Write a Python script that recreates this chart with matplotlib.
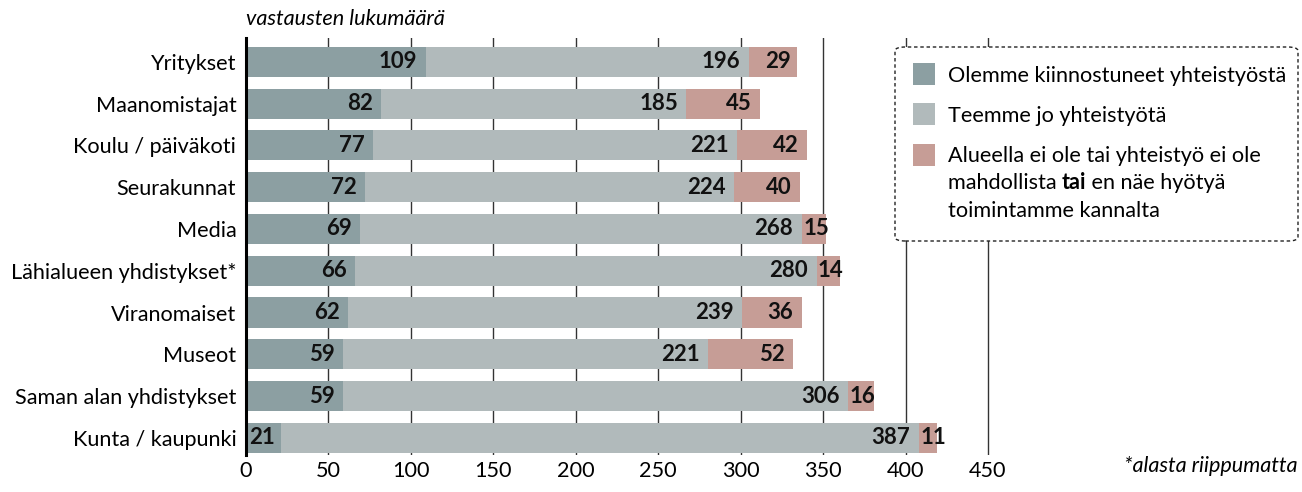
import matplotlib
matplotlib.use('Agg')
import matplotlib.pyplot as plt
from matplotlib.patches import FancyBboxPatch, Rectangle
from matplotlib.text import Annotation

plt.rcParams['font.family'] = ['Lato', 'DejaVu Sans']

# ── Data ──────────────────────────────────────────────────────────────────────
CATEGORIES = ['Yritykset', 'Maanomistajat', 'Koulu / päiväkoti', 'Seurakunnat',
              'Media', 'Lähialueen yhdistykset*', 'Viranomaiset', 'Museot',
              'Saman alan yhdistykset', 'Kunta / kaupunki']
INTERESTED = [109, 82, 77, 72, 69, 66, 62, 59, 59, 21]
ALREADY    = [196, 185, 221, 224, 268, 280, 239, 221, 306, 387]
NOT_POSS   = [29, 45, 42, 40, 15, 14, 36, 52, 16, 11]
XTICKS     = [0, 50, 100, 150, 200, 250, 300, 350, 400, 450]

SERIES_LABELS = ['Olemme kiinnostuneet yhteistyöstä', 'Teemme jo yhteistyötä']
COLORS = ['#8c9fa2', '#b1babb', '#c69d96']

FS = 15.6
NUM_FS = 16
W, H = 1302, 492
XMAX = 452
PX_PER_UNIT = (988 - 246) / 450

fig = plt.figure(figsize=(W / 100, H / 100), dpi=100)
ax = fig.add_axes([246 / W, 1 - 455 / H, XMAX * PX_PER_UNIT / W, (455 - 38) / H])

ys = list(range(len(CATEGORIES)))
h = 0.72
left = [0] * len(ys)
for vals, col in zip([INTERESTED, ALREADY, NOT_POSS], COLORS):
    bars = ax.barh(ys, vals, left=left, height=h, color=col, zorder=2)
    for b, v in zip(bars, vals):
        yc = b.get_y() + h / 2
        if v < 20 and col == COLORS[2]:
            # narrow segment: start the label at the segment start
            ax.annotate(f'{v}', xy=(b.get_x(), yc), xytext=(1, 0),
                        textcoords='offset points', ha='left', va='center',
                        fontsize=NUM_FS, fontweight='bold', color='#111111', zorder=3)
        else:
            pad = -4 if v < 30 else -6
            ax.annotate(f'{v}', xy=(b.get_x() + b.get_width(), yc),
                        xytext=(pad, 0), textcoords='offset points',
                        ha='right', va='center', fontsize=NUM_FS, fontweight='bold',
                        color='#111111', zorder=3)
    left = [l + v for l, v in zip(left, vals)]

ax.set_xlim(0, XMAX)
ax.set_ylim(9.41, -0.57)
ax.set_xticks(XTICKS)
ax.set_xticklabels([str(t) for t in XTICKS], fontsize=FS)
ax.set_yticks(ys)
ax.set_yticklabels(CATEGORIES, fontsize=FS)
ax.tick_params(axis='both', length=0, pad=7)
ax.tick_params(axis='x', pad=4)
ax.xaxis.grid(True, color='#333333', linewidth=1.0, zorder=1)
ax.set_axisbelow(True)
for s in ['top', 'right', 'bottom']:
    ax.spines[s].set_visible(False)
ax.spines['left'].set_linewidth(2.2)
ax.spines['left'].set_zorder(4)

fig.text(246 / W, 1 - 19 / H, 'vastausten lukumäärä', style='italic',
         fontsize=FS, ha='left', va='center')
fig.text(1298 / W, 1 - 466 / H, '*alasta riippumatta', style='italic',
         fontsize=FS, ha='right', va='center')

# ── Legend box ────────────────────────────────────────────────────────────────
box = FancyBboxPatch((895 / W, 1 - 241 / H), (1298 - 895) / W, (241 - 47) / H,
                     boxstyle='round,pad=0,rounding_size=0.008',
                     transform=fig.transFigure, facecolor='white',
                     edgecolor='#222222', linestyle=(0, (2.5, 2)),
                     linewidth=1.0, zorder=5)
fig.add_artist(box)

rows_y = [74, 114, 155]
for y, col in zip(rows_y, COLORS):
    fig.add_artist(Rectangle((913 / W, 1 - (y + 11) / H), 22 / W, 22 / H,
                             transform=fig.transFigure, facecolor=col,
                             edgecolor='none', zorder=6))
for y, lab in zip(rows_y[:2], SERIES_LABELS):
    fig.text(948 / W, 1 - (y + 2) / H, lab, fontsize=FS, ha='left', va='center', zorder=6)

fig.text(948 / W, 1 - 156 / H, 'Alueella ei ole tai yhteistyö ei ole',
         fontsize=FS, ha='left', va='center', zorder=6)
t1 = fig.text(948 / W, 1 - 183 / H, 'mahdollista ', fontsize=FS,
              ha='left', va='center', zorder=6)
t2 = Annotation('tai', xy=(1, 0), xycoords=t1, va='bottom', ha='left',
                fontsize=FS, fontweight='bold', zorder=6)
fig.add_artist(t2)
t3 = Annotation(' en näe hyötyä', xy=(1, 0), xycoords=t2, va='bottom', ha='left',
                fontsize=FS, zorder=6)
fig.add_artist(t3)
fig.text(948 / W, 1 - 211 / H, 'toimintamme kannalta', fontsize=FS,
         ha='left', va='center', zorder=6)

plt.savefig('out.png', dpi=100)
